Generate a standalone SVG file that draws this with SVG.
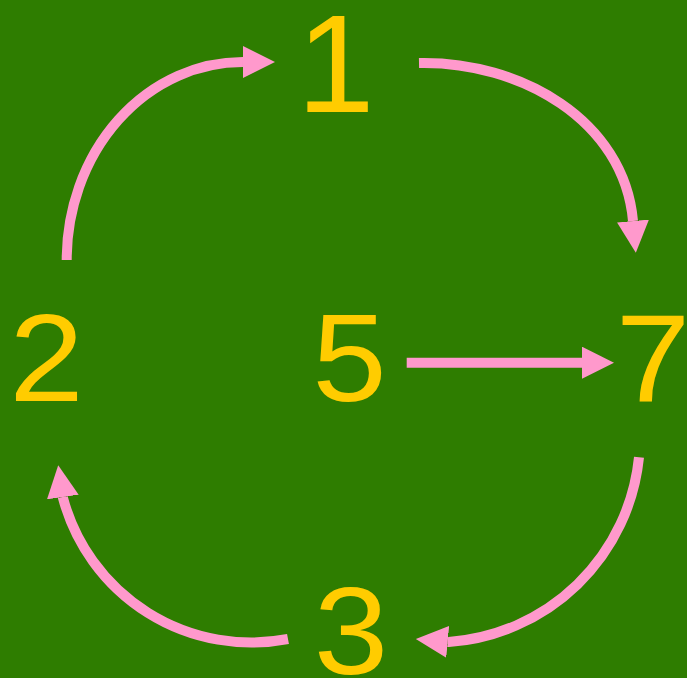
<svg xmlns="http://www.w3.org/2000/svg" width="687" height="678" viewBox="0 0 687 678">
<style>
.lbl{font-family:"Liberation Sans",Arial,sans-serif;fill:#ffcc00;text-anchor:middle}
.edge{fill:none;stroke:#ff99cc;stroke-width:10;marker-end:url(#ah)}
</style>
<defs>
<marker id="ah" markerWidth="32" markerHeight="32" refX="0" refY="16" orient="auto" markerUnits="userSpaceOnUse">
<path d="M0,0 L32,16 L0,32 z" fill="#ff99cc"/>
</marker>
</defs>
<rect width="687" height="678" fill="#2e7d00"/>
<g id="connectors">
<path class="edge" d="M406.7,362.7 H582"/>
<path class="edge" d="M66.7,260 A176,198 0 0 1 243,62"/>
<path class="edge" d="M419,63 C520,61 624,120 633,221"/>
<path class="edge" d="M639,457.3 A206,206 0 0 1 448.7,642 l-1,-0.09"/>
<path class="edge" d="M288,639 A195,195 0 0 1 63,498 l-0.147,-1"/>
</g>
<g id="node1"><text class="lbl" x="335.7" y="112" font-size="140">1</text></g>
<g id="node2"><text class="lbl" transform="translate(46.4,401) scale(1.08,1)" font-size="124">2</text></g>
<g id="node5"><text class="lbl" transform="translate(349.4,401) scale(1.08,1)" font-size="124">5</text></g>
<g id="node7"><text class="lbl" transform="translate(653.1,401) scale(1.08,1)" font-size="124">7</text></g>
<g id="node3"><text class="lbl" transform="translate(351,673.5) scale(1.08,1)" font-size="124">3</text></g>
</svg>
